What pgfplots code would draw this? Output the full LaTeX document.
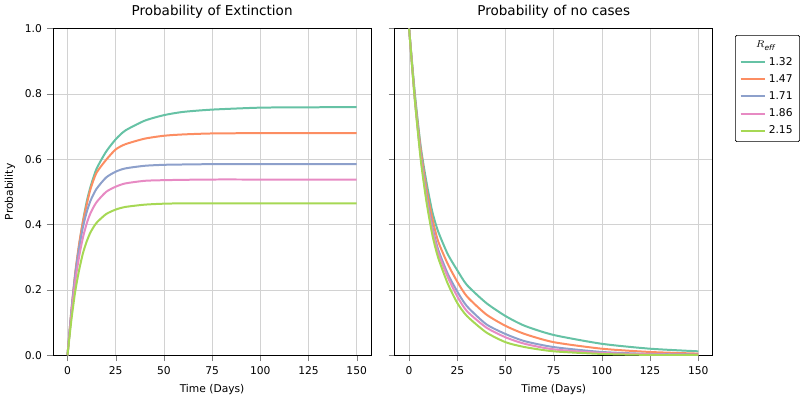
\documentclass[border=0pt]{standalone}
\usepackage{pgfplots}
\pgfplotsset{compat=1.18}
\usepgfplotslibrary{groupplots}
\usepackage{fontspec}
\setmainfont{DejaVu Sans}
\definecolor{c1}{HTML}{66C2A5}
\definecolor{c2}{HTML}{FC8D62}
\definecolor{c3}{HTML}{8DA0CB}
\definecolor{c4}{HTML}{E78AC3}
\definecolor{c5}{HTML}{A6D854}
\begin{document}
\begin{tikzpicture}
\begin{groupplot}[group style={group size=2 by 1, horizontal sep=16.5pt, y descriptions at=edge left},
 width=223pt, height=229pt, scale only axis,
 xmin=-7.5, xmax=157.5, ymin=0, ymax=1,
 xtick={0,25,...,150}, ytick={0,0.2,...,1},
 yticklabel style={/pgf/number format/fixed,/pgf/number format/precision=1,/pgf/number format/fixed zerofill},
 grid=major, grid style={gray!35},
 tick label style={font=\fontsize{7.5}{9}\selectfont},
 label style={font=\fontsize{7.5}{9}\selectfont},
 title style={font=\fontsize{9.5}{11}\selectfont, yshift=-2pt},
 /pgf/number format/assume math mode=true,
 tick align=outside, tick pos=left,
 every axis plot/.append style={line width=1.4pt, no marks, smooth, tension=0.4},
 xlabel={Time (Days)}]
\nextgroupplot[title={Probability of Extinction}, ylabel={Probability}]
\addplot[c1] coordinates {(0,0)(2,0.129)(4,0.243)(6,0.334)(8,0.410)(10,0.471)(12,0.517)(15,0.570)(20,0.623)(25,0.661)(30,0.688)(40,0.718)(50,0.735)(60,0.745)(75,0.752)(100,0.758)(125,0.759)(150,0.76)};
\addplot[c2] coordinates {(0,0)(2,0.136)(4,0.252)(6,0.34)(8,0.408)(10,0.462)(12,0.51)(15,0.558)(20,0.598)(25,0.630)(30,0.646)(40,0.663)(50,0.672)(60,0.676)(75,0.679)(100,0.68)(125,0.68)(150,0.68)};
\addplot[c3] coordinates {(0,0)(2,0.135)(4,0.246)(6,0.328)(8,0.392)(10,0.439)(12,0.474)(15,0.509)(20,0.544)(25,0.562)(30,0.572)(40,0.580)(50,0.583)(60,0.584)(75,0.585)(100,0.585)(125,0.585)(150,0.585)};
\addplot[c4] coordinates {(0,0)(2,0.124)(4,0.226)(6,0.301)(8,0.360)(10,0.404)(12,0.436)(15,0.468)(20,0.500)(25,0.516)(30,0.526)(40,0.534)(50,0.536)(60,0.537)(75,0.538)(100,0.538)(125,0.538)(150,0.538)};
\addplot[c5] coordinates {(0,0)(2,0.107)(4,0.195)(6,0.260)(8,0.312)(10,0.349)(12,0.377)(15,0.405)(20,0.432)(25,0.446)(30,0.454)(40,0.461)(50,0.464)(60,0.465)(75,0.465)(100,0.465)(125,0.465)(150,0.465)};
\nextgroupplot[title={Probability of no cases},
 legend style={at={(1.07,0.98)}, anchor=north west, font=\fontsize{7.5}{9}\selectfont, draw=black, rounded corners=1pt, row sep=1pt},
 legend cell align=left]
\addlegendimage{empty legend}\addlegendentry{\hspace{-1.2em}\hfill$R_{\mathit{eff}}$}
\addplot[c1] coordinates {(0,1)(3,0.8)(6,0.64)(9,0.53)(12,0.44)(15,0.38)(20,0.31)(25,0.26)(30,0.215)(40,0.16)(50,0.12)(60,0.09)(75,0.062)(100,0.035)(125,0.02)(150,0.012)};
\addlegendentry{1.32}
\addplot[c2] coordinates {(0,1)(3,0.79)(6,0.63)(9,0.51)(12,0.42)(15,0.35)(20,0.28)(25,0.225)(30,0.18)(40,0.125)(50,0.09)(60,0.065)(75,0.04)(100,0.02)(125,0.01)(150,0.005)};
\addlegendentry{1.47}
\addplot[c3] coordinates {(0,1)(3,0.785)(6,0.615)(9,0.49)(12,0.395)(15,0.325)(20,0.25)(25,0.195)(30,0.15)(40,0.095)(50,0.065)(60,0.043)(75,0.025)(100,0.01)(125,0.004)(150,0.002)};
\addlegendentry{1.71}
\addplot[c4] coordinates {(0,1)(3,0.78)(6,0.61)(9,0.48)(12,0.385)(15,0.315)(20,0.24)(25,0.18)(30,0.135)(40,0.085)(50,0.055)(60,0.035)(75,0.018)(100,0.007)(125,0.003)(150,0.001)};
\addlegendentry{1.86}
\addplot[c5] coordinates {(0,1)(3,0.78)(6,0.6)(9,0.47)(12,0.37)(15,0.3)(20,0.22)(25,0.16)(30,0.12)(40,0.07)(50,0.04)(60,0.025)(75,0.012)(100,0.004)(125,0.001)(150,0)};
\addlegendentry{2.15}
\end{groupplot}
\end{tikzpicture}
\end{document}
